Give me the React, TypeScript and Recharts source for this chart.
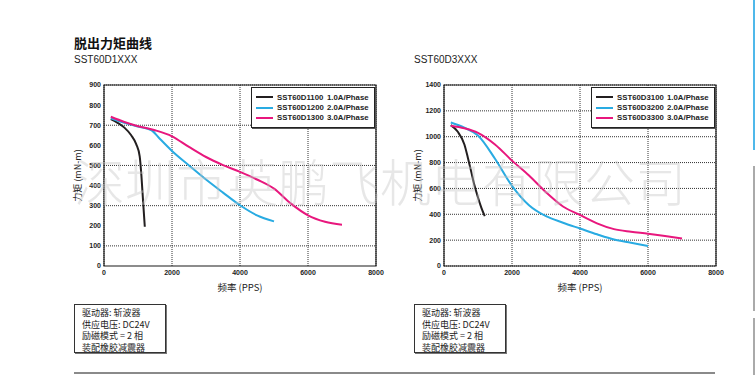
import { LineChart, Line, XAxis, YAxis, CartesianGrid, ReferenceArea } from 'recharts';

// Pull-out torque curves
const FREQ_TICKS = [0, 2000, 4000, 6000, 8000];
const D1_TORQUE_TICKS = [0, 100, 200, 300, 400, 500, 600, 700, 800, 900];
const D3_TORQUE_TICKS = [0, 200, 400, 600, 800, 1000, 1200, 1400];

const D1_SERIES = ['SST60D1100', 'SST60D1200', 'SST60D1300'];
const D3_SERIES = ['SST60D3100', 'SST60D3200', 'SST60D3300'];
const CURRENTS = ['1.0A/Phase', '2.0A/Phase', '3.0A/Phase'];
const COLORS = ['#231f20', '#29abe2', '#e8177d'];

const d1100Freq = [200, 400, 600, 800, 950, 1050, 1100, 1150, 1200];
const d1100Torque = [730, 712, 688, 650, 605, 545, 450, 320, 195];
const d1200Freq = [200, 600, 1000, 1400, 1600, 2000, 2500, 3000, 3500, 4000, 4500, 5000];
const d1200Torque = [735, 712, 693, 675, 640, 572, 500, 430, 365, 302, 252, 222];
const d1300Freq = [200, 600, 1000, 1500, 2000, 2500, 3000, 3500, 4000, 4500, 5000, 5500, 6000, 6500, 7000];
const d1300Torque = [742, 716, 695, 675, 645, 592, 542, 502, 468, 430, 385, 310, 252, 220, 205];

const d3100Freq = [200, 400, 600, 700, 800, 900, 1000, 1100, 1200];
const d3100Torque = [1090, 1040, 940, 840, 730, 620, 530, 450, 385];
const d3200Freq = [200, 600, 1000, 1500, 2000, 2500, 3000, 3500, 4000, 4500, 5000, 5500, 6000];
const d3200Torque = [1110, 1070, 1010, 830, 620, 470, 385, 335, 290, 245, 205, 180, 155];
const d3300Freq = [200, 600, 1000, 1500, 2000, 2500, 3000, 3500, 4000, 4500, 5000, 5500, 6000, 6500, 7000];
const d3300Torque = [1085, 1065, 1030, 940, 815, 700, 570, 460, 395, 330, 285, 265, 250, 232, 212];

const INFO_LINES = ['驱动器: 斩波器', '供应电压: DC24V', '励磁模式 = 2 相', '装配橡胶减震器'];
const WATERMARK = '深圳市英鹏飞机电有限公司';

const zip = (f: number[], t: number[]) => f.map((v, i) => ({ f: v, t: t[i] }));

const LATIN = '"Liberation Sans", Arial, sans-serif';
const CJK = '"Noto Sans CJK SC", "Liberation Sans", sans-serif';

function LegendBox({ names }: { names: string[] }) {
  return (
    <div
      style={{
        position: 'absolute',
        left: 191,
        top: 12,
        width: 118,
        height: 35,
        border: '1px solid #222',
        boxShadow: '1px 1px 0 #555',
        background: '#fff',
        fontFamily: LATIN,
        fontSize: 7.8,
        fontWeight: 700,
        color: '#222',
        padding: '4px 0 0 4px',
        whiteSpace: 'nowrap',
      }}
    >
      {names.map((n, i) => (
        <div key={n} style={{ display: 'flex', alignItems: 'center', height: 10.4 }}>
          <span style={{ display: 'inline-block', width: 17, height: 2, background: COLORS[i], marginRight: 4 }} />
          <span style={{ width: 50 }}>{n}</span>
          <span>{CURRENTS[i]}</span>
        </div>
      ))}
    </div>
  );
}

function TorqueChart({
  left,
  names,
  series,
  yMax,
  yTicks,
}: {
  left: number;
  names: string[];
  series: { f: number; t: number }[][];
  yMax: number;
  yTicks: number[];
}) {
  const tick = { fontSize: 7, fontWeight: 700, fill: '#222', fontFamily: LATIN };
  return (
    <div style={{ position: 'absolute', left, top: 75, width: 330, height: 225 }}>
      <LineChart width={330} height={225} margin={{ top: 10, right: 14, left: 4, bottom: 8 }}>
        <CartesianGrid
          stroke="#333"
          strokeDasharray="1 1"
          horizontalValues={yTicks}
          verticalValues={FREQ_TICKS}
        />
        <XAxis
          type="number"
          dataKey="f"
          domain={[0, 8000]}
          ticks={FREQ_TICKS}
          allowDataOverflow
          axisLine={false}
          tickLine={false}
          tickSize={0}
          tickMargin={4}
          height={26}
          tick={tick}
          label={{
            value: '频率 (PPS)',
            position: 'insideBottom',
            offset: 1,
            style: { fontSize: 9.5, fill: '#222', fontFamily: CJK },
          }}
        />
        <YAxis
          type="number"
          dataKey="t"
          domain={[0, yMax]}
          ticks={yTicks}
          allowDataOverflow
          axisLine={false}
          tickLine={false}
          tickSize={0}
          tickMargin={3}
          width={40}
          tick={tick}
          label={{
            value: '力矩 (mN-m)',
            angle: -90,
            position: 'insideLeft',
            offset: 14,
            style: { fontSize: 9, fill: '#222', fontFamily: CJK, textAnchor: 'middle' },
          }}
        />
        <ReferenceArea x1={0} x2={8000} y1={0} y2={yMax} fill="none" stroke="#1a1a1a" strokeWidth={1.2} />
        {series.map((d, i) => (
          <Line
            key={names[i]}
            data={d}
            dataKey="t"
            name={names[i]}
            type="monotone"
            stroke={COLORS[i]}
            strokeWidth={2}
            dot={false}
            isAnimationActive={false}
          />
        ))}
      </LineChart>
      <LegendBox names={names} />
    </div>
  );
}

function InfoBox({ left }: { left: number }) {
  return (
    <div
      style={{
        position: 'absolute',
        left,
        top: 304,
        width: 92,
        height: 49,
        border: '1px solid #333',
        boxShadow: '1px 1px 0 #777',
        fontFamily: CJK,
        fontSize: 9,
        lineHeight: '11.5px',
        color: '#222',
        padding: '2px 0 0 7px',
        boxSizing: 'border-box',
      }}
    >
      {INFO_LINES.map((l) => (
        <div key={l}>{l}</div>
      ))}
    </div>
  );
}

export default function App() {
  return (
    <div
      style={{
        position: 'absolute',
        left: 0,
        top: 0,
        width: 755,
        height: 375,
        background: '#fff',
        overflow: 'hidden',
      }}
    >
      <div style={{ position: 'absolute', left: 74, top: 33, fontFamily: CJK, fontSize: 13, fontWeight: 700, color: '#111' }}>
        脱出力矩曲线
      </div>
      <div style={{ position: 'absolute', left: 74, top: 54, fontFamily: LATIN, fontSize: 10, color: '#222' }}>SST60D1XXX</div>
      <div style={{ position: 'absolute', left: 414, top: 54, fontFamily: LATIN, fontSize: 10, color: '#222' }}>SST60D3XXX</div>

      <TorqueChart
        left={60}
        names={D1_SERIES}
        series={[zip(d1100Freq, d1100Torque), zip(d1200Freq, d1200Torque), zip(d1300Freq, d1300Torque)]}
        yMax={900}
        yTicks={D1_TORQUE_TICKS}
      />
      <TorqueChart
        left={400}
        names={D3_SERIES}
        series={[zip(d3100Freq, d3100Torque), zip(d3200Freq, d3200Torque), zip(d3300Freq, d3300Torque)]}
        yMax={1400}
        yTicks={D3_TORQUE_TICKS}
      />

      <InfoBox left={74} />
      <InfoBox left={414} />

      {/* bottom rule and the page-edge marks */}
      <div style={{ position: 'absolute', left: 74, top: 372, width: 641, height: 2, background: '#8a8a8a' }} />
      <div style={{ position: 'absolute', left: 753, top: 0, width: 2, height: 150, background: '#4fb8ea' }} />
      <div style={{ position: 'absolute', left: 753, top: 166, width: 2, height: 145, background: '#aaa' }} />
      <div style={{ position: 'absolute', left: 753, top: 318, width: 2, height: 57, background: '#aaa' }} />

      {/* watermark across both charts */}
      <div
        style={{
          position: 'absolute',
          left: 74,
          top: 143,
          fontFamily: CJK,
          fontSize: 51,
          fontWeight: 300,
          color: 'rgba(195,195,195,0.4)',
          whiteSpace: 'nowrap',
          pointerEvents: 'none',
        }}
      >
        {WATERMARK}
      </div>
    </div>
  );
}
